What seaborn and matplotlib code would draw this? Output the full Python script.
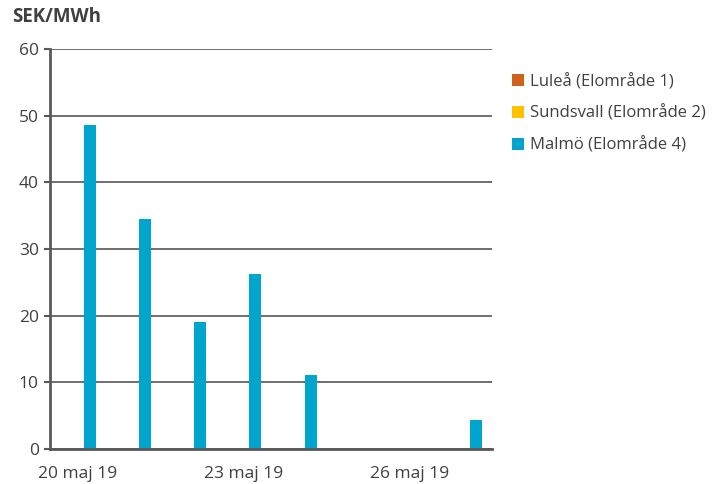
import matplotlib
matplotlib.use("Agg")
import matplotlib.pyplot as plt
import seaborn as sns
import pandas as pd

dates = ["20 maj 19", "21 maj 19", "22 maj 19", "23 maj 19",
         "24 maj 19", "25 maj 19", "26 maj 19", "27 maj 19"]
series = ["Luleå (Elområde 1)", "Sundsvall (Elområde 2)", "Malmö (Elområde 4)"]
lulea = [0, 0, 0, 0, 0, 0, 0, 0]
sundsvall = [0, 0, 0, 0, 0, 0, 0, 0]
malmo = [48.6, 34.5, 19.1, 26.3, 11.1, 0, 0, 4.4]
colors = ["#D0601A", "#FFC000", "#00A5CD"]
shown_ticks = ["20 maj 19", "23 maj 19", "26 maj 19"]

sns.set_theme(style="white")
plt.rcParams['font.family'] = ['Open Sans', 'DejaVu Sans']
txt = "#404040"

rows = []
for s, vals in zip(series, [lulea, sundsvall, malmo]):
    for d, v in zip(dates, vals):
        rows.append({"date": d, "series": s, "value": v})
df = pd.DataFrame(rows)

fig = plt.figure(figsize=(7.13, 4.84), dpi=100)
ax = fig.add_axes([0.0701, 0.0723, 0.6199, 0.8265])

sns.barplot(data=df, x="date", y="value", hue="series", order=dates,
            hue_order=series, palette=colors, width=0.65, ax=ax,
            saturation=1, errorbar=None, linewidth=0)

ax.set_ylim(0, 60)
ax.set_yticks(range(0, 61, 10))
ax.set_xlim(-0.5, len(dates) - 0.5)
pos = [dates.index(t) for t in shown_ticks]
ax.set_xticks(pos)
ax.set_xticklabels(shown_ticks)
ax.set_xlabel("")
ax.set_ylabel("")
ax.yaxis.grid(True, color="#6f6f6f", linewidth=1.4)
ax.set_axisbelow(True)
for s in ["top", "right"]:
    ax.spines[s].set_visible(False)
for s in ["left", "bottom"]:
    ax.spines[s].set_color("#595959")
    ax.spines[s].set_linewidth(2)
ax.tick_params(axis="y", left=True, length=4, width=1.5, color="#595959",
               labelsize=12.5, labelcolor=txt, pad=4)
ax.tick_params(axis="x", bottom=False, labelsize=12.5, labelcolor=txt, pad=6)

fig.text(0.017, 0.965, "SEK/MWh", fontsize=13.5, fontweight="bold", color=txt,
         va="center", ha="left")

handles, labels = ax.get_legend_handles_labels()
ax.legend(handles, labels, loc="upper left", bbox_to_anchor=(1.03, 0.955),
          frameon=False, fontsize=12, handlelength=0.7, handleheight=0.7,
          handletextpad=0.4, labelspacing=0.92, labelcolor=txt, borderaxespad=0)

fig.savefig("out.png", dpi=100)
